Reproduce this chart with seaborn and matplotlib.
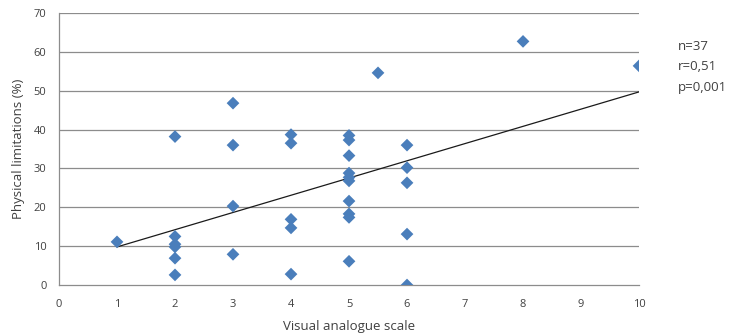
import matplotlib
matplotlib.use("Agg")
import matplotlib.pyplot as plt
import seaborn as sns
import pandas as pd

vas = [1,
       2, 2, 2, 2, 2, 2,
       3, 3, 3, 3,
       4, 4, 4, 4, 4,
       5, 5, 5, 5, 5, 5, 5, 5, 5, 5,
       5.5,
       6, 6, 6, 6, 6,
       8, 10]
phys = [11.1,
        38.2, 12.5, 10.5, 9.8, 6.9, 2.6,
        46.8, 36.0, 20.3, 7.9,
        38.7, 36.5, 16.9, 14.7, 2.8,
        38.5, 37.3, 33.3, 28.8, 27.7, 26.8, 21.6, 18.3, 17.4, 6.1,
        54.6,
        36.0, 30.2, 26.3, 13.1, 0.0,
        62.7, 56.4]
trend_x = [1, 10]
trend_y = [9.8, 49.7]
x_ticks = list(range(0, 11))
y_ticks = list(range(0, 71, 10))
stats_text = ["n=37", "r=0,51", "p=0,001"]

df = pd.DataFrame({"vas": vas, "phys": phys})
tdf = pd.DataFrame({"x": trend_x, "y": trend_y})

sns.set_style("white")
plt.rcParams["font.family"] = ["Open Sans", "DejaVu Sans"]

fig = plt.figure(figsize=(7.32, 3.34), dpi=100)
ax = fig.add_axes([0.0806, 0.1467, 0.7924, 0.8143])

for y in y_ticks[1:]:
    ax.axhline(y, color="#8c8c8c", lw=0.9, zorder=0)

sns.lineplot(data=tdf, x="x", y="y", ax=ax, color="#1a1a1a", lw=0.9, zorder=2)
sns.scatterplot(data=df, x="vas", y="phys", ax=ax, marker="D", s=42,
                color="#4a7ebb", edgecolor="none", linewidth=0, zorder=3)

ax.set_xlim(0, 10)
ax.set_ylim(0, 70)
ax.set_xticks(x_ticks)
ax.set_yticks(y_ticks)
ax.tick_params(axis="both", labelsize=8, colors="#404040", length=4,
               width=0.8, direction="out")
ax.tick_params(axis="x", color="#8c8c8c", pad=6)
ax.tick_params(axis="y", color="#8c8c8c", pad=5)
for s in ["top", "right"]:
    ax.spines[s].set_visible(False)
for s in ["left", "bottom"]:
    ax.spines[s].set_color("#8c8c8c")
    ax.spines[s].set_linewidth(0.9)
ax.set_xlabel("Visual analogue scale", fontsize=9.5, color="#404040", labelpad=7)
ax.set_ylabel("Physical limitations (%)", fontsize=9.5, color="#404040", labelpad=6)

for i, t in enumerate(stats_text):
    fig.text(678 / 732, 1 - (46 + i * 20.5) / 334, t, fontsize=9.5,
             color="#404040", va="center", ha="left")

fig.savefig("out.png", dpi=100)
